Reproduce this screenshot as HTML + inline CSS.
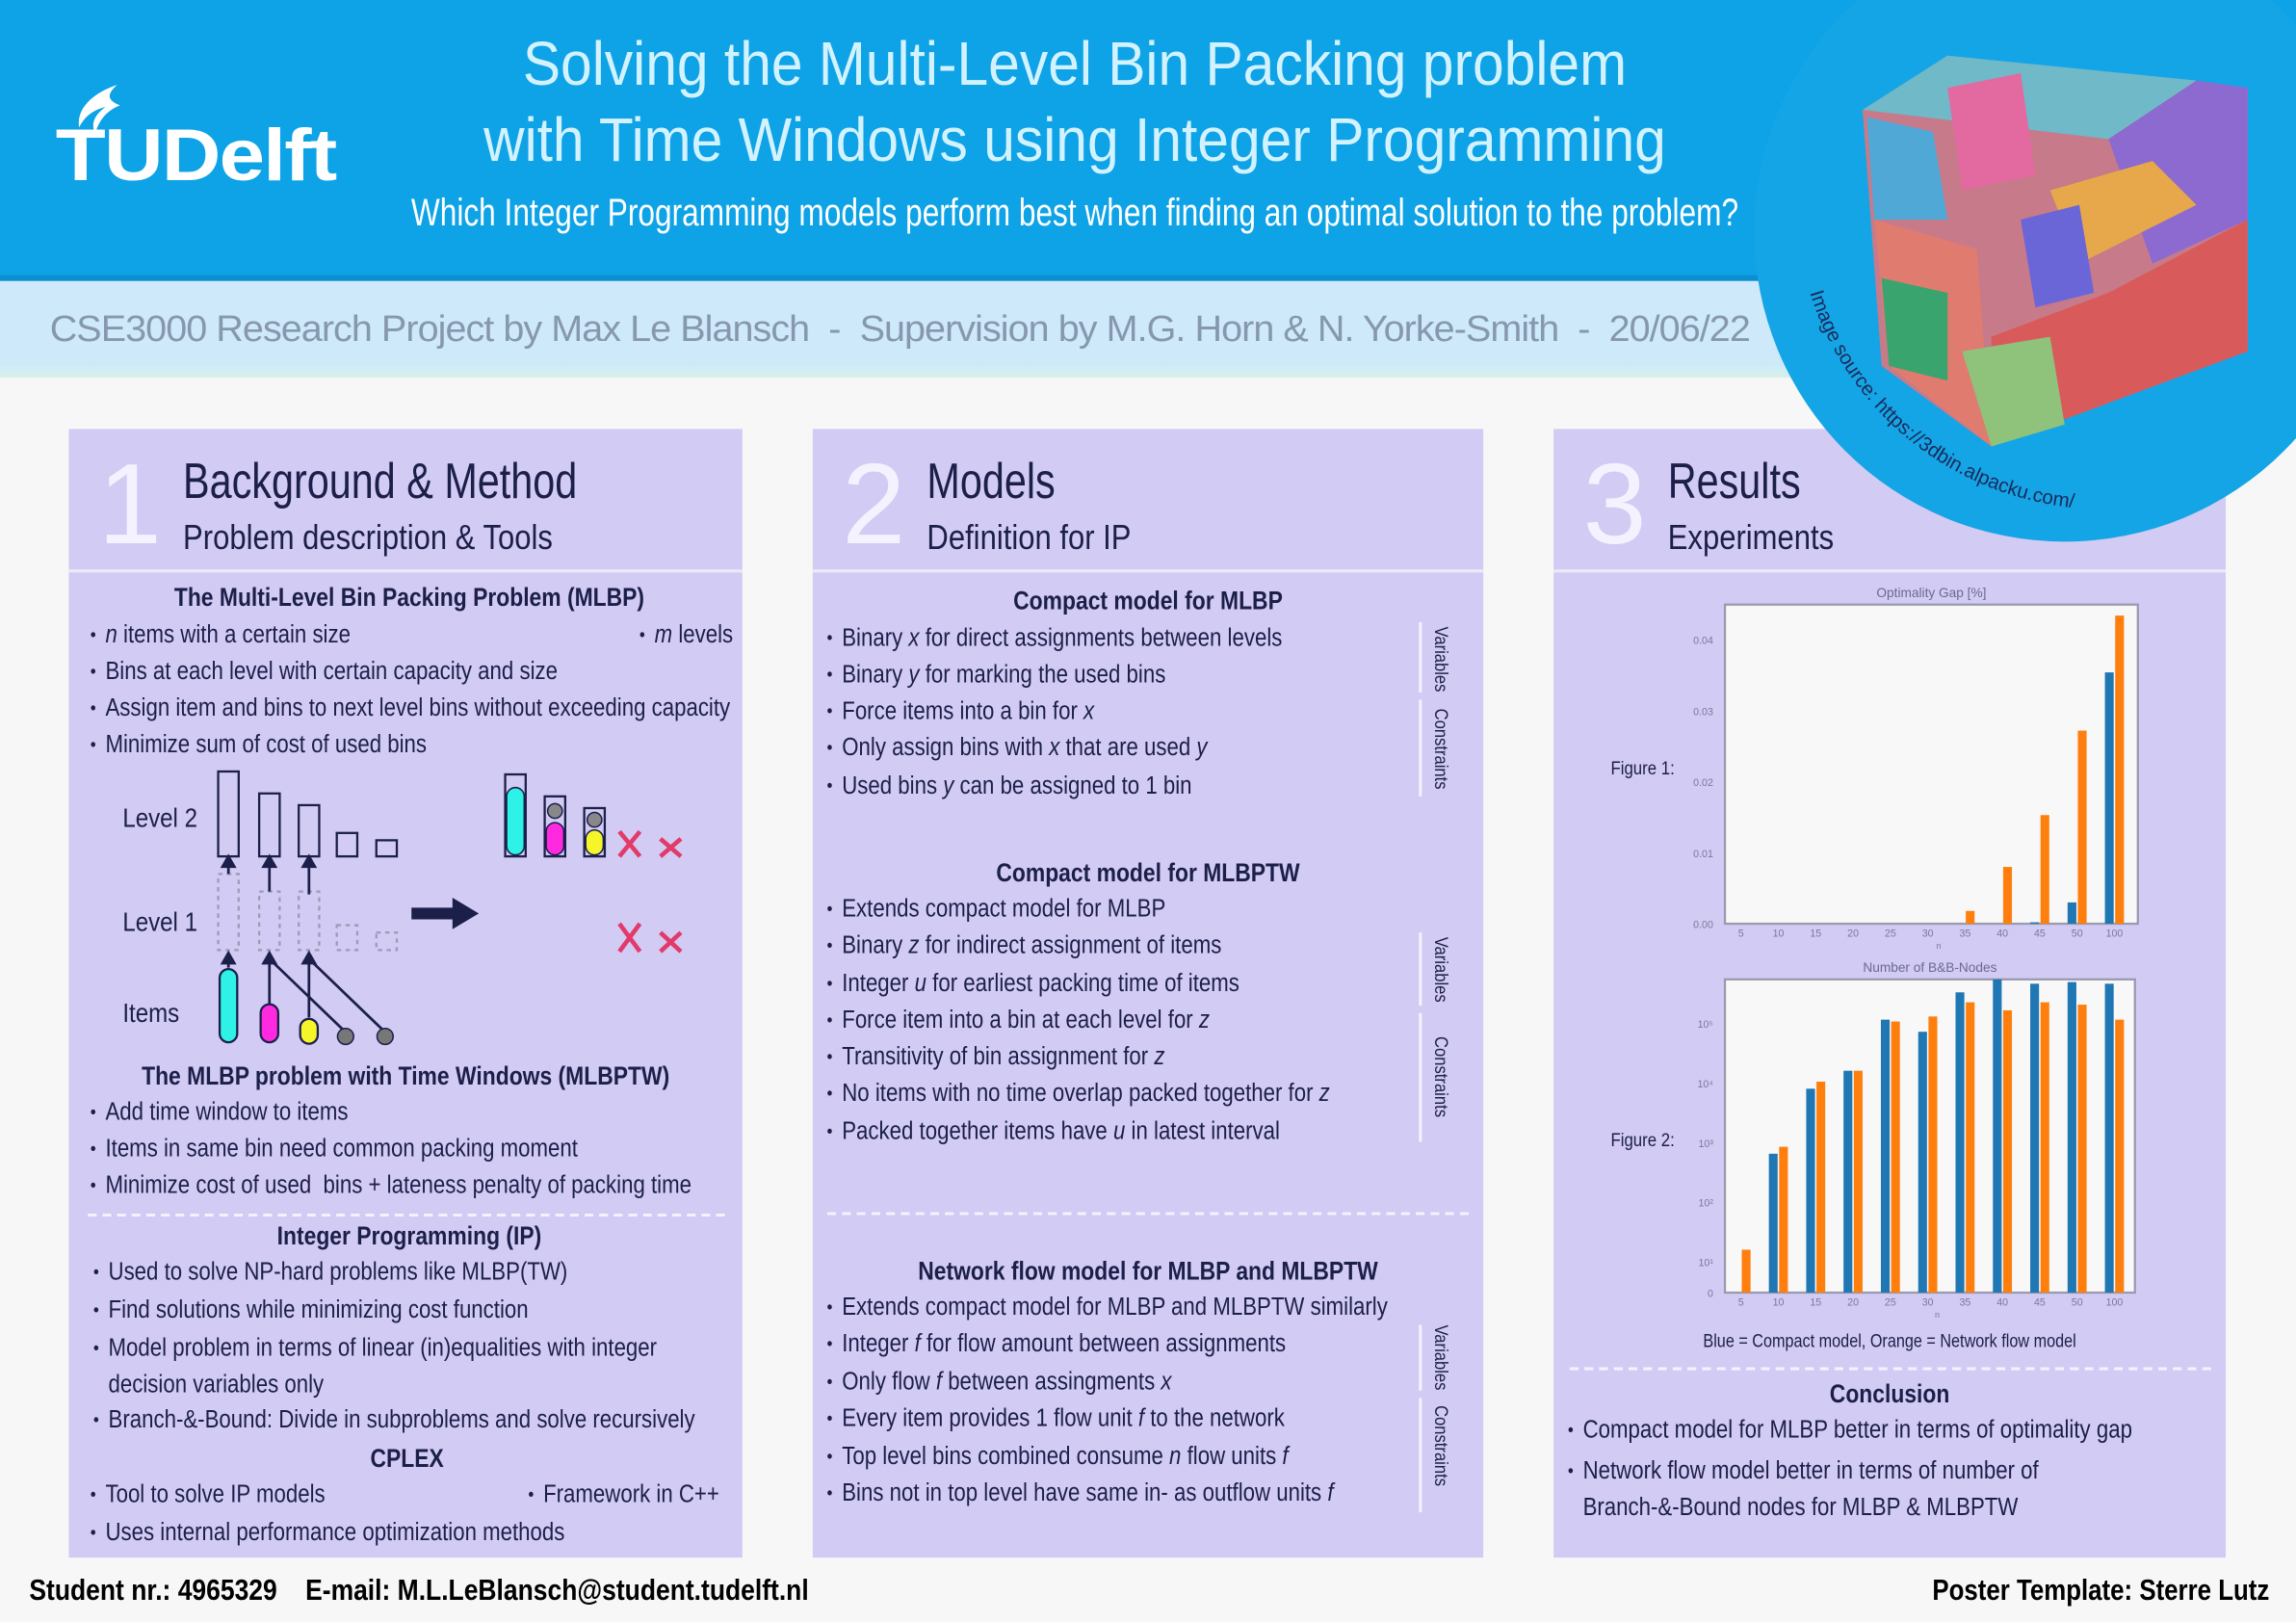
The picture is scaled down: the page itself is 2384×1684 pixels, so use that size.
<!DOCTYPE html>
<html><head><meta charset="utf-8">
<style>
html,body{margin:0;padding:0;background:#f7f7f7;overflow:hidden;}
#root{position:absolute;left:0;top:0;width:1568px;height:1108px;transform:scale(1.52041,1.51986);transform-origin:0 0;background:#f7f7f7;font-family:"Liberation Sans Narrow","Liberation Sans",sans-serif;color:#1b1f4a;overflow:hidden;}
.abs{position:absolute;}
.panel{position:absolute;top:293px;width:460px;height:771px;background:#d2cbf3;}
.phead{position:absolute;left:0;top:0;width:100%;height:96px;border-bottom:2px solid #eceaf8;}
.num{position:absolute;left:20px;top:6px;font-family:"Liberation Sans",sans-serif;font-weight:100;font-size:78px;color:#f4f2ff;line-height:90px;}
.ptitle{position:absolute;left:78px;top:16px;font-size:34px;line-height:40px;white-space:nowrap;transform:scaleX(0.8);transform-origin:0 0;}
.psub{position:absolute;left:78px;top:60px;font-size:24px;line-height:30px;white-space:nowrap;transform:scaleX(0.85);transform-origin:0 0;}
.h{position:absolute;font-weight:bold;font-size:17.5px;line-height:20px;text-align:center;white-space:nowrap;transform:scaleX(0.86);transform-origin:50% 0;}
.b{position:absolute;font-size:17px;line-height:20px;white-space:nowrap;transform:scaleX(0.86);transform-origin:0 0;}
.b:before{content:"•";position:absolute;left:-12px;font-size:13px;}
.dash{position:absolute;height:0;border-top:2px dashed #f4f2ff;}
.vl{position:absolute;writing-mode:vertical-rl;font-size:13px;line-height:14px;transform:scaleY(0.84);transform-origin:0 0;white-space:nowrap;}
.vbar{position:absolute;width:0;border-left:2px solid #f4f2ff;}
i{font-style:italic;}
</style></head><body>
<div id="root">

<div class="abs" style="left:0;top:0;width:1568px;height:190px;background:#0ea3e6;"></div>
<div class="abs" style="left:0;top:188px;width:1568px;height:4px;background:#0b8fd0;"></div>
<div class="abs" style="left:0;top:192px;width:1568px;height:66px;background:linear-gradient(#cde9fa 0%,#cde9fa 85%,#d6f2e8 100%);"></div>

<div class="abs" style="left:38px;top:78px;font-family:'Liberation Sans',sans-serif;font-weight:bold;font-size:50px;line-height:56px;color:#fff;letter-spacing:-1px;transform:scaleX(1.12);transform-origin:0 0;">TUDelft</div>
<svg class="abs" style="left:40px;top:55px" width="50" height="40"><path d="M40 3 C25 8 12 18 14 32 C18 24 24 20 32 18 C24 24 22 30 25 36 C28 26 34 20 42 17 C34 14 32 10 40 3Z" fill="#fff"/></svg>

<div class="abs" style="left:234px;width:1000px;top:18px;text-align:center;font-family:'Liberation Sans',sans-serif;font-weight:300;font-size:42px;line-height:52px;color:#d3f2ff;white-space:nowrap;transform:scaleX(0.92);transform-origin:50% 0;">Solving the Multi-Level Bin Packing problem<br>with Time Windows using Integer Programming</div>
<div class="abs" style="left:134px;width:1200px;top:130px;text-align:center;font-size:26px;line-height:30px;color:#fff;white-space:nowrap;transform:scaleX(0.8);transform-origin:50% 0;">Which Integer Programming models perform best when finding an optimal solution to the problem?</div>
<div class="abs" style="left:34px;top:209px;font-family:'Liberation Sans',sans-serif;font-weight:300;font-size:25px;line-height:32px;color:#8797ae;white-space:nowrap;letter-spacing:-0.6px;transform:scaleX(1.04);transform-origin:0 0;">CSE3000 Research Project by Max Le Blansch &nbsp;-&nbsp; Supervision by M.G. Horn &amp; N. Yorke-Smith &nbsp;-&nbsp; 20/06/22</div>

<div class="panel" style="left:47px;">
 <div class="phead"><div class="num">1</div><div class="ptitle">Background &amp; Method</div><div class="psub">Problem description &amp; Tools</div></div>
</div>
<div class="panel" style="left:555px;width:458px;">
 <div class="phead"><div class="num">2</div><div class="ptitle">Models</div><div class="psub">Definition for IP</div></div>
</div>
<div class="panel" style="left:1061px;width:459px;">
 <div class="phead"><div class="num">3</div><div class="ptitle">Results</div><div class="psub">Experiments</div></div>
</div>

<svg class="abs" style="left:0;top:0" width="1568" height="400">
 <defs><path id="arc" d="M1236 200 A 210 210 0 0 0 1470 345"/></defs>
 <circle cx="1410" cy="158" r="212" fill="#14a5e6"/>
 <polygon points="1272,75 1330,38 1535,60 1535,240 1360,305 1285,250" fill="#c77a8a"/>
 <polygon points="1272,75 1330,38 1500,55 1440,95" fill="#6fb9c9"/>
 <polygon points="1440,95 1500,55 1535,60 1535,150 1470,180" fill="#8c6ad0"/>
 <polygon points="1280,150 1350,170 1360,305 1290,250" fill="#e07b70"/>
 <polygon points="1285,190 1330,200 1330,260 1290,250" fill="#3aa46e"/>
 <polygon points="1360,230 1440,200 1535,150 1535,240 1360,305" fill="#d95a5a"/>
 <polygon points="1400,130 1470,110 1500,140 1420,180" fill="#e6a84a"/>
 <polygon points="1330,60 1380,50 1390,120 1340,130" fill="#e36aa0"/>
 <polygon points="1340,240 1400,230 1410,290 1360,305" fill="#8fc27a"/>
 <polygon points="1275,80 1320,90 1330,150 1280,150" fill="#4fa8d6"/>
 <polygon points="1380,150 1420,140 1430,200 1390,210" fill="#6a66d8"/>
 <text font-family="Liberation Sans, sans-serif" font-size="13.5" fill="#1b2a5a"><textPath href="#arc">Image source: https://3dbin.alpacku.com/</textPath></text>
</svg>

<div class="h" style="left:47px;width:465px;top:398px;">The Multi-Level Bin Packing Problem (MLBP)</div>
<div class="b" style="left:72px;top:424px;"><i>n</i> items with a certain size</div>
<div class="b" style="left:447px;top:424px;"><i>m</i> levels</div>
<div class="b" style="left:72px;top:449px;">Bins at each level with certain capacity and size</div>
<div class="b" style="left:72px;top:474px;">Assign item and bins to next level bins without exceeding capacity</div>
<div class="b" style="left:72px;top:499px;">Minimize sum of cost of used bins</div>

<svg class="abs" style="left:60px;top:515px" width="430" height="205">
 <g font-family="Liberation Sans, sans-serif" font-size="18" fill="#1b1f4a" transform="scale(0.88,1)">
  <text x="27" y="50">Level 2</text><text x="27" y="121">Level 1</text><text x="27" y="183">Items</text>
 </g>
 <g fill="none" stroke="#1b1f4a" stroke-width="1.5">
  <rect x="89" y="12" width="14" height="58"/><rect x="117" y="27" width="14" height="43"/><rect x="144" y="35" width="14" height="35"/>
  <rect x="170" y="54" width="14" height="16"/><rect x="197" y="59" width="14" height="11"/>
 </g>
 <g fill="none" stroke="#a09ab8" stroke-width="1.5" stroke-dasharray="3,3">
  <rect x="89" y="82" width="14" height="52"/><rect x="117" y="94" width="14" height="40"/><rect x="144" y="94" width="14" height="40"/>
  <rect x="170" y="117" width="14" height="17"/><rect x="197" y="122" width="14" height="12"/>
 </g>
 <g stroke="#1b1f4a" stroke-width="1.8" fill="#1b1f4a">
  <line x1="96" y1="82" x2="96" y2="74"/><polygon points="92,77 100,77 96,70"/>
  <line x1="124" y1="94" x2="124" y2="74"/><polygon points="120,77 128,77 124,70"/>
  <line x1="151" y1="96" x2="151" y2="74"/><polygon points="147,77 155,77 151,70"/>
  <line x1="96" y1="146" x2="96" y2="140"/><polygon points="92,143 100,143 96,136"/>
  <line x1="124" y1="180" x2="124" y2="140"/><polygon points="120,143 128,143 124,136"/>
  <line x1="151" y1="180" x2="151" y2="140"/><polygon points="147,143 155,143 151,136"/>
  <line x1="124" y1="140" x2="178" y2="192"/><line x1="151" y1="140" x2="205" y2="192"/>
  <path d="M222 106 L250 106 L250 100 L265 109 L250 118 L250 112 L222 112Z" stroke-width="2"/>
 </g>
 <rect x="90" y="147" width="12" height="50" rx="6" fill="#2ef2e6" stroke="#1b1f4a" stroke-width="1.5"/>
 <rect x="118" y="171" width="12" height="26" rx="6" fill="#ff2ae0" stroke="#1b1f4a" stroke-width="1.5"/>
 <rect x="145" y="181" width="12" height="17" rx="6" fill="#f5f52a" stroke="#1b1f4a" stroke-width="1.5"/>
 <circle cx="176" cy="193" r="5.5" fill="#777" stroke="#1b1f4a"/><circle cx="203" cy="193" r="5.5" fill="#777" stroke="#1b1f4a"/>
 <g stroke="#1b1f4a" stroke-width="1.5" fill="none">
  <rect x="285" y="14" width="14" height="56"/><rect x="312" y="29" width="14" height="41"/><rect x="339" y="37" width="14" height="33"/>
 </g>
 <rect x="286" y="23" width="12" height="46" rx="6" fill="#2ef2e6" stroke="#1b1f4a"/>
 <rect x="313" y="47" width="12" height="22" rx="6" fill="#ff2ae0" stroke="#1b1f4a"/>
 <circle cx="319" cy="39" r="5" fill="#888" stroke="#1b1f4a"/>
 <rect x="340" y="52" width="12" height="17" rx="6" fill="#f5f52a" stroke="#1b1f4a"/>
 <circle cx="346" cy="45" r="5" fill="#888" stroke="#1b1f4a"/>
 <g stroke="#e23a6a" stroke-width="3">
  <line x1="363" y1="53" x2="377" y2="70"/><line x1="377" y1="53" x2="363" y2="70"/>
  <line x1="391" y1="58" x2="405" y2="70"/><line x1="405" y1="58" x2="391" y2="70"/>
  <line x1="363" y1="116" x2="377" y2="135"/><line x1="377" y1="116" x2="363" y2="135"/>
  <line x1="391" y1="122" x2="405" y2="135"/><line x1="405" y1="122" x2="391" y2="135"/>
 </g>
</svg>

<div class="h" style="left:47px;width:460px;top:725px;">The MLBP problem with Time Windows (MLBPTW)</div>
<div class="b" style="left:72px;top:750px;">Add time window to items</div>
<div class="b" style="left:72px;top:775px;">Items in same bin need common packing moment</div>
<div class="b" style="left:72px;top:800px;">Minimize cost of used &nbsp;bins + lateness penalty of packing time</div>
<div class="dash" style="left:60px;width:435px;top:829px;"></div>
<div class="h" style="left:47px;width:465px;top:834px;">Integer Programming (IP)</div>
<div class="b" style="left:74px;top:859px;">Used to solve NP-hard problems like MLBP(TW)</div>
<div class="b" style="left:74px;top:885px;">Find solutions while minimizing cost function</div>
<div class="b" style="left:74px;top:910px;line-height:25px;top:908px;">Model problem in terms of linear (in)equalities with integer<br>decision variables only</div>
<div class="b" style="left:74px;top:960px;">Branch-&amp;-Bound: Divide in subproblems and solve recursively</div>
<div class="h" style="left:47px;width:462px;top:986px;">CPLEX</div>
<div class="b" style="left:72px;top:1011px;">Tool to solve IP models</div>
<div class="b" style="left:371px;top:1011px;">Framework in C++</div>
<div class="b" style="left:72px;top:1037px;">Uses internal performance optimization methods</div>

<div class="h" style="left:555px;width:458px;top:400px;">Compact model for MLBP</div>
<div class="b" style="left:575px;top:426px;">Binary <i>x</i> for direct assignments between levels</div>
<div class="b" style="left:575px;top:451px;">Binary <i>y</i> for marking the used bins</div>
<div class="b" style="left:575px;top:476px;">Force items into a bin for <i>x</i></div>
<div class="b" style="left:575px;top:501px;">Only assign bins with <i>x</i> that are used <i>y</i></div>
<div class="b" style="left:575px;top:527px;">Used bins <i>y</i> can be assigned to 1 bin</div>
<div class="vbar" style="left:969px;top:425px;height:48px;"></div><div class="vl" style="left:977px;top:428px;">Variables</div>
<div class="vbar" style="left:969px;top:478px;height:66px;"></div><div class="vl" style="left:977px;top:484px;">Constraints</div>

<div class="h" style="left:555px;width:458px;top:586px;">Compact model for MLBPTW</div>
<div class="b" style="left:575px;top:611px;">Extends compact model for MLBP</div>
<div class="b" style="left:575px;top:636px;">Binary <i>z</i> for indirect assignment of items</div>
<div class="b" style="left:575px;top:662px;">Integer <i>u</i> for earliest packing time of items</div>
<div class="b" style="left:575px;top:687px;">Force item into a bin at each level for <i>z</i></div>
<div class="b" style="left:575px;top:712px;">Transitivity of bin assignment for <i>z</i></div>
<div class="b" style="left:575px;top:737px;">No items with no time overlap packed together for <i>z</i></div>
<div class="b" style="left:575px;top:763px;">Packed together items have <i>u</i> in latest interval</div>
<div class="vbar" style="left:969px;top:637px;height:50px;"></div><div class="vl" style="left:977px;top:640px;">Variables</div>
<div class="vbar" style="left:969px;top:692px;height:88px;"></div><div class="vl" style="left:977px;top:708px;">Constraints</div>
<div class="dash" style="left:565px;width:438px;top:828px;"></div>

<div class="h" style="left:555px;width:458px;top:858px;">Network flow model for MLBP and MLBPTW</div>
<div class="b" style="left:575px;top:883px;">Extends compact model for MLBP and MLBPTW similarly</div>
<div class="b" style="left:575px;top:908px;">Integer <i>f</i> for flow amount between assignments</div>
<div class="b" style="left:575px;top:934px;">Only flow <i>f</i> between assingments <i>x</i></div>
<div class="b" style="left:575px;top:959px;">Every item provides 1 flow unit <i>f</i> to the network</div>
<div class="b" style="left:575px;top:985px;">Top level bins combined consume <i>n</i> flow units <i>f</i></div>
<div class="b" style="left:575px;top:1010px;">Bins not in top level have same in- as outflow units <i>f</i></div>
<div class="vbar" style="left:969px;top:905px;height:45px;"></div><div class="vl" style="left:977px;top:905px;">Variables</div>
<div class="vbar" style="left:969px;top:955px;height:78px;"></div><div class="vl" style="left:977px;top:960px;">Constraints</div>

<div class="abs" style="left:1100px;top:517px;font-size:13px;transform:scaleX(0.85);transform-origin:0 0;">Figure 1:</div>
<div class="abs" style="left:1100px;top:771px;font-size:13px;transform:scaleX(0.85);transform-origin:0 0;">Figure 2:</div>
<svg id="charts" class="abs" style="left:0;top:0" width="1568" height="1108"></svg>
<div class="abs" style="left:1061px;width:459px;top:908px;text-align:center;font-size:13px;white-space:nowrap;transform:scaleX(0.82);transform-origin:50% 0;">Blue = Compact model, Orange = Network flow model</div>
<div class="dash" style="left:1072px;width:438px;top:934px;"></div>
<div class="h" style="left:1061px;width:459px;top:942px;">Conclusion</div>
<div class="b" style="left:1081px;top:967px;">Compact model for MLBP better in terms of optimality gap</div>
<div class="b" style="left:1081px;top:992px;line-height:25px;">Network flow model better in terms of number of<br>Branch-&amp;-Bound nodes for MLBP &amp; MLBPTW</div>

<div class="abs" style="left:20px;top:1075px;font-weight:bold;font-size:20px;line-height:24px;color:#000;white-space:nowrap;transform:scaleX(0.87);transform-origin:0 0;">Student nr.: 4965329 &nbsp;&nbsp; E-mail: M.L.LeBlansch@student.tudelft.nl</div>
<div class="abs" style="right:18px;top:1075px;font-weight:bold;font-size:20px;line-height:24px;color:#000;white-space:nowrap;transform:scaleX(0.85);transform-origin:100% 0;">Poster Template: Sterre Lutz</div>
</div>

<script>
const categories = ["5","10","15","20","25","30","35","40","45","50","100"];
const gapCompact = [0,0,0,0,0,0,0,0,0.0002,0.003,0.0354];
const gapNetwork = [0,0,0,0,0,0,0.0018,0.008,0.0153,0.0272,0.0434];
const gapTicks = [0,0.01,0.02,0.03,0.04];
const gapTickLabels = ["0.00","0.01","0.02","0.03","0.04"];
const nodesCompact = [0,650,8000,16000,115000,72000,330000,630000,460000,490000,460000];
const nodesNetwork = [16,850,10500,16000,107000,130000,225000,165000,225000,205000,115000];
const nodeTicks = [0,10,100,1000,10000,100000];
const nodeTickLabels = ["0","10¹","10²","10³","10⁴","10⁵"];

const NS="http://www.w3.org/2000/svg";
const svg=document.getElementById('charts');
function mk(t,a){const e=document.createElementNS(NS,t);for(const k in a)e.setAttribute(k,a[k]);svg.appendChild(e);return e;}
function catX(i){return 1189+i*25.5;}
function yGap(v){return 631-v/0.01*48.5;}
function yNodes(v){if(v<=0)return 883;if(v<10)return 883-v/10*21;return Math.max(669,862-(Math.log10(v)-1)*40.75);}

function drawChart(title,top,bottom,right,ticks,tickLabels,yf,blue,orange,key){
  const bg=mk('rect',{x:1178,y:top,width:right-1178,height:bottom-top,fill:'#f8f8f8',stroke:'#9a9ab0','stroke-width':1.5});
  
  
  const tt=mk('text',{x:(1178+right)/2,y:top-5,'text-anchor':'middle','font-size':9,fill:'#6a6a90','font-family':'Liberation Sans, sans-serif'});
  tt.textContent=title;
  
  
  ticks.forEach((t,i)=>{
    const lb=mk('text',{x:1170,y:yf(t)+3,'text-anchor':'end','font-size':7,fill:'#7a7a9a','font-family':'Liberation Sans, sans-serif'});
    lb.textContent=tickLabels[i];
    
    
  });
  categories.forEach((c,i)=>{
    const cx=catX(i);
    const lb=mk('text',{x:cx,y:bottom+9,'text-anchor':'middle','font-size':7,fill:'#7a7a9a','font-family':'Liberation Sans, sans-serif'});
    lb.textContent=c;
    
    
    if(blue[i]>0){const yb=yf(blue[i]);const r=mk('rect',{x:cx-6.5,y:yb,width:6,height:yf(0)-yb,fill:'#1f77b4'});
      
      }
    if(orange[i]>0){const yo=yf(orange[i]);const r=mk('rect',{x:cx+0.5,y:yo,width:6,height:yf(0)-yo,fill:'#ff7f0e'});
      
      }
  });
  const xl=mk('text',{x:(1178+right)/2+5,y:bottom+17,'text-anchor':'middle','font-size':6,fill:'#7a7a9a','font-family':'Liberation Sans, sans-serif'});
  xl.textContent='n';
  
  
}
drawChart('Optimality Gap [%]',413,631,1460,gapTicks,gapTickLabels,yGap,gapCompact,gapNetwork,'gap-chart');
drawChart('Number of B&B-Nodes',669,883,1458,nodeTicks,nodeTickLabels,yNodes,nodesCompact,nodesNetwork,'nodes-chart');
</script>
</body></html>
